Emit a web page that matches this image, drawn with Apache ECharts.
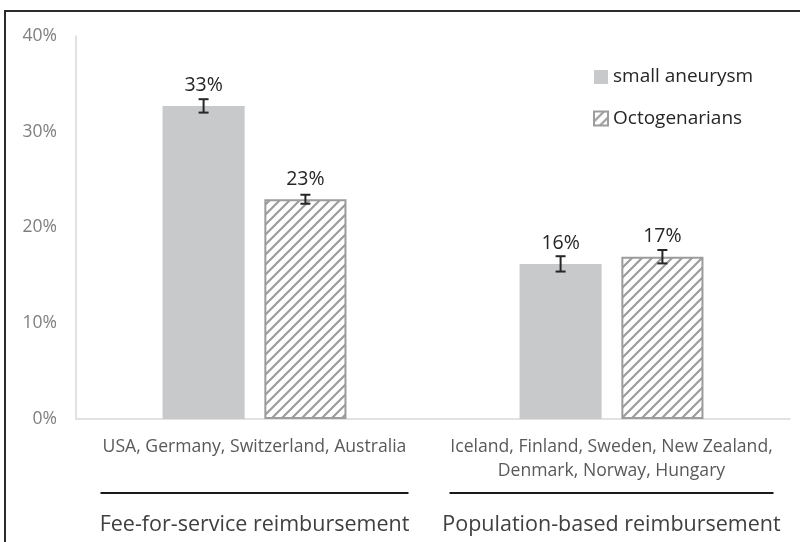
<!DOCTYPE html>
<html><head><meta charset="utf-8">
<script src="https://cdn.jsdelivr.net/npm/echarts@6/dist/echarts.min.js"></script>
<style>html,body{margin:0;padding:0;background:#fff}#c{width:800px;height:542px}</style>
</head><body><div id="c"></div>
<script>
const categories = ["USA, Germany, Switzerland, Australia", "Iceland, Finland, Sweden, New Zealand,\nDenmark, Norway, Hungary"];
const groupLabels = ["Fee-for-service reimbursement", "Population-based reimbursement"];
const seriesNames = ["small aneurysm", "Octogenarians"];
const smallAneurysm = [32.7, 16.2];
const smallAneurysmErr = [0.7, 0.8];
const octogenarians = [22.95, 16.95];
const octogenariansErr = [0.47, 0.7];
const yMin = 0, yMax = 40, yStep = 10;

const FONT = 'Open Sans';
const BAR_W = 0.23, BAR_GAP = 0.24;

function hatch() {
  const c = document.createElement('canvas'); c.width = 10; c.height = 10;
  const g = c.getContext('2d');
  g.fillStyle = '#fff'; g.fillRect(0, 0, 10, 10);
  g.strokeStyle = '#9c9c9c'; g.lineWidth = 2.2;
  g.beginPath();
  g.moveTo(-2, 12); g.lineTo(12, -2);
  g.moveTo(-2, 2); g.lineTo(2, -2);
  g.moveTo(8, 12); g.lineTo(12, 8);
  g.stroke();
  return c;
}

function errRender(sign) {
  return function (params, api) {
    const cat = api.value(0), lo = api.value(1), hi = api.value(2);
    const band = api.size([1, 0])[0];
    const off = sign * band * (BAR_W / 2 + BAR_W * BAR_GAP / 2);
    const p1 = api.coord([cat, hi]), p2 = api.coord([cat, lo]);
    const x = p1[0] + off, hw = 5;
    const st = { stroke: '#262626', lineWidth: 2 };
    return { type: 'group', children: [
      { type: 'line', shape: { x1: x, y1: p1[1], x2: x, y2: p2[1] }, style: st },
      { type: 'line', shape: { x1: x - hw, y1: p1[1], x2: x + hw, y2: p1[1] }, style: st },
      { type: 'line', shape: { x1: x - hw, y1: p2[1], x2: x + hw, y2: p2[1] }, style: st }
    ] };
  };
}
const errData = (vals, errs) => vals.map((v, i) => [i, v - errs[i], v + errs[i]]);

const valueLabel = {
  show: true, position: 'top', distance: 10,
  formatter: p => Math.round(p.value) + '%',
  fontFamily: FONT, fontSize: 19.5, color: '#262626', lineHeight: 20
};

const chart = echarts.init(document.getElementById('c'));
chart.setOption({
  animation: false,
  backgroundColor: '#fff',
  grid: { left: 76, right: 10, top: 36, bottom: 123 },
  legend: {
    data: seriesNames, orient: 'vertical', left: 593, top: 67, padding: 0,
    itemWidth: 14, itemHeight: 14, itemGap: 21.5, icon: 'rect',
    textStyle: { fontFamily: FONT, fontSize: 19, color: '#262626', lineHeight: 20 }
  },
  xAxis: {
    type: 'category', data: categories,
    axisLine: { lineStyle: { color: '#d9d9d9', width: 1.5 } },
    axisTick: { show: false },
    axisLabel: { interval: 0, margin: 16, fontFamily: FONT, fontSize: 17.6, color: '#595959', lineHeight: 24 }
  },
  yAxis: {
    type: 'value', min: yMin, max: yMax, interval: yStep,
    axisLine: { show: true, lineStyle: { color: '#d9d9d9', width: 1.5 } },
    axisTick: { show: false },
    splitLine: { show: false },
    axisLabel: { formatter: '{value}%', margin: 19, fontFamily: FONT, fontSize: 17.5, color: '#7f7f7f' }
  },
  series: [
    { name: seriesNames[0], type: 'bar', data: smallAneurysm, barWidth: (BAR_W * 100) + '%', barGap: (BAR_GAP * 100) + '%',
      itemStyle: { color: '#c8c9cb' }, label: valueLabel },
    { name: seriesNames[1], type: 'bar', data: octogenarians, barWidth: (BAR_W * 100) + '%', barGap: (BAR_GAP * 100) + '%',
      itemStyle: { color: { image: hatch(), repeat: 'repeat' }, borderColor: '#9c9c9c', borderWidth: 2 }, label: valueLabel },
    { type: 'custom', renderItem: errRender(-1), data: errData(smallAneurysm, smallAneurysmErr), encode: { x: 0, y: [1, 2] }, z: 5, silent: true },
    { type: 'custom', renderItem: errRender(1), data: errData(octogenarians, octogenariansErr), encode: { x: 0, y: [1, 2] }, z: 5, silent: true }
  ]
});

const lineWidths = [308, 324];
const graphics = [
  { type: 'rect', shape: { x: 5, y: 11, width: 820, height: 560 }, style: { fill: null, stroke: '#2b2b2b', lineWidth: 2 }, silent: true }
];
categories.forEach((c, i) => {
  const cx = chart.convertToPixel({ xAxisIndex: 0 }, i);
  graphics.push({ type: 'line', shape: { x1: cx - lineWidths[i] / 2, y1: 493, x2: cx + lineWidths[i] / 2, y2: 493 }, style: { stroke: '#1a1a1a', lineWidth: 2 } });
  graphics.push({ type: 'text', x: cx, y: 525, style: { text: groupLabels[i], fontFamily: FONT, fontSize: 21.5, fill: '#404040', align: 'center', verticalAlign: 'middle' } });
});
chart.setOption({ graphic: graphics });
</script>
</body></html>
